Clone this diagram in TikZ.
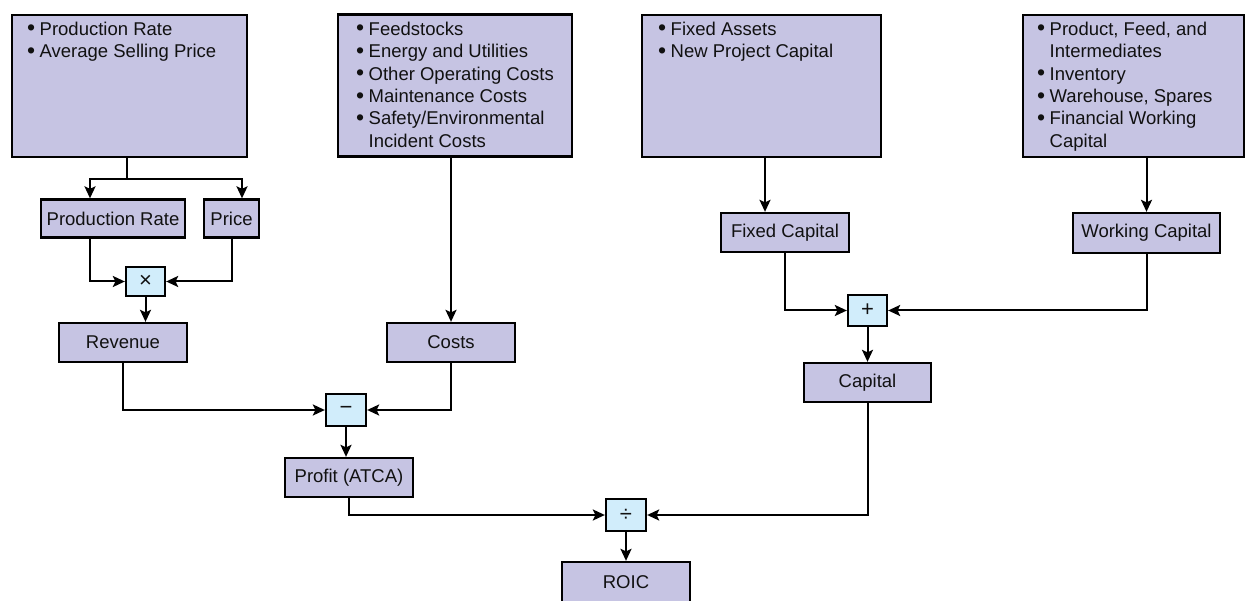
\documentclass[tikz,border=0pt]{standalone}
\usepackage{fontspec}
\setmainfont{Liberation Sans}
\usetikzlibrary{arrows.meta}
\definecolor{boxfill}{HTML}{C6C4E3}
\definecolor{opfill}{HTML}{D1EDFB}
\definecolor{ink}{HTML}{111111}
\newcommand\bul{\makebox[12.5pt][l]{\raisebox{-0.5pt}{\fontsize{23}{22.4}\selectfont\textbullet}}}
\newcommand\cont{\hspace*{12.5pt}}
\tikzset{
 box/.style={draw=black, line width=2.3pt, fill=boxfill, inner sep=0pt, text=ink, font=\fontsize{18.5}{22.4}\selectfont},
 opbox/.style={draw=black, line width=2.3pt, fill=opfill, inner sep=0pt, text=ink, font=\fontsize{22}{22}\selectfont},
 list/.style={anchor=north west, inner sep=0pt, align=left, text=ink, font=\fontsize{18.5}{22.4}\selectfont},
 conn/.style={draw=black, line width=2pt, -{Stealth[length=12pt,width=11pt,inset=2.5pt]}},
}
\begin{document}
\begin{tikzpicture}[x=1pt,y=-1pt]
\useasboundingbox (0,0) rectangle (1249,601);
% top source boxes
\node[box, minimum width=235pt, minimum height=142pt] (A) at (129.5,86) {};
\node[box, minimum width=234pt, minimum height=142pt] (B) at (455,85.5) {};
\node[box, minimum width=239pt, minimum height=142pt] (C) at (761.5,86) {};
\node[box, minimum width=221pt, minimum height=142pt] (D) at (1133.5,86) {};
\node[list] (Atext) at (27,21.7) {\bul Production Rate\\ \bul Average Selling Price};
\node[list] (Btext) at (356,21.7) {\bul Feedstocks\\ \bul Energy and Utilities\\ \bul Other Operating Costs\\ \bul Maintenance Costs\\ \bul Safety/Environmental\\ \cont Incident Costs};
\node[list] (Ctext) at (658,21.7) {\bul Fixed Assets\\ \bul New Project Capital};
\node[list] (Dtext) at (1037,21.7) {\bul Product, Feed, and\\ \cont Intermediates\\ \bul Inventory\\ \bul Warehouse, Spares\\ \bul Financial Working\\ \cont Capital};
% second level
\node[box, minimum width=144pt, minimum height=38pt] (PR) at (113,218.5) {Production Rate};
\node[box, minimum width=55pt, minimum height=38pt] (Price) at (231.5,218.5) {Price};
\node[opbox, minimum width=39pt, minimum height=29pt] (times) at (145.5,281.5) {×};
\node[box, minimum width=128pt, minimum height=39pt] (Rev) at (123,342.5) {Revenue};
\node[box, minimum width=128pt, minimum height=39pt] (Costs) at (451,342.5) {Costs};
\node[opbox, minimum width=40pt, minimum height=32pt] (minus) at (346,410) {−};
\node[box, minimum width=128pt, minimum height=39pt] (Profit) at (349,477.5) {Profit (ATCA)};
\node[opbox, minimum width=40pt, minimum height=32pt] (div) at (626,515) {÷};
\node[box, minimum width=128pt, minimum height=40pt] (ROIC) at (626,582) {ROIC};
\node[box, minimum width=128pt, minimum height=39pt] (FC) at (785,232.5) {Fixed Capital};
\node[box, minimum width=147pt, minimum height=40pt] (WC) at (1146.5,233) {Working Capital};
\node[opbox, minimum width=39pt, minimum height=31pt] (plus) at (867.5,310.5) {+};
\node[box, minimum width=127pt, minimum height=39pt] (Cap) at (867.5,382.5) {Capital};
% helper coordinates
\coordinate (ja) at (127,179);
\coordinate (pa) at (90,179);
\coordinate (pb) at (242,179);
\coordinate (cx) at (765,0);
% connectors
\draw[conn] (A.south -| ja) -- (ja) -| (PR.north -| pa);
\draw[conn] (ja) -| (Price.north -| pb);
\draw[conn] (PR.south -| pa) |- (times.west);
\draw[conn] (Price.south) |- (times.east);
\draw[conn] (times.south) -- (Rev.north -| times.south);
\draw[conn] (Rev.south) |- (minus.west);
\draw[conn] (B.south -| Costs.north) -- (Costs.north);
\draw[conn] (Costs.south) |- (minus.east);
\draw[conn] (minus.south) -- (Profit.north -| minus.south);
\draw[conn] (Profit.south) |- (div.west);
\draw[conn] (C.south -| cx) -- (FC.north -| cx);
\draw[conn] (D.south -| WC.north) -- (WC.north);
\draw[conn] (FC.south) |- (plus.west);
\draw[conn] (WC.south) |- (plus.east);
\draw[conn] (plus.south) -- (Cap.north);
\draw[conn] (Cap.south) |- (div.east);
\draw[conn] (div.south) -- (ROIC.north);
\end{tikzpicture}
\end{document}
